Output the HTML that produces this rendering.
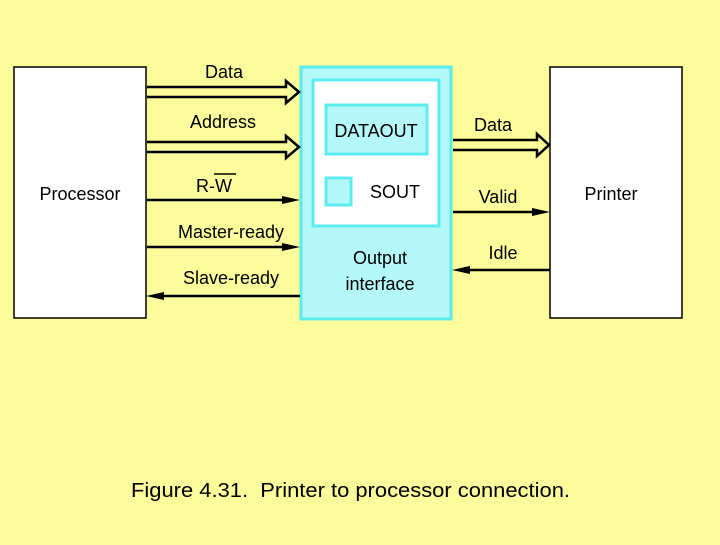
<!DOCTYPE html>
<html><head><style>
body{margin:0;width:720px;height:540px;background:#fcfc9c;font-family:"Liberation Sans",sans-serif;overflow:hidden}
</style></head><body>
<svg width="720" height="540" xmlns="http://www.w3.org/2000/svg" font-family="Liberation Sans, sans-serif" font-size="18">
<rect x="0" y="0" width="720" height="540" fill="#fcfc9c"/>
<rect x="14" y="67" width="132" height="251" fill="#fff" stroke="#000" stroke-width="1.5"/>
<rect x="550" y="67" width="132" height="251" fill="#fff" stroke="#000" stroke-width="1.5"/>
<rect x="301" y="67" width="150" height="252" fill="#b4f8fa" stroke="#5cecf0" stroke-width="3"/>
<rect x="313" y="80" width="126" height="146" fill="#fff" stroke="#5cecf0" stroke-width="3"/>
<rect x="326" y="105" width="101" height="49" fill="#b4f8fa" stroke="#5cecf0" stroke-width="3"/>
<rect x="326" y="178" width="25" height="27" fill="#b4f8fa" stroke="#5cecf0" stroke-width="3"/>
<g fill="none" stroke="#000" stroke-width="2.5">
<path d="M147 87H286V81L299 92L286 103V97H147"/>
<path d="M147 142H286V136L299 147L286 158V152H147"/>
<path d="M453 140H537V134L549 145L537 156V150H453"/>
<path d="M147 200H285M147 247H285M160 296H300M453 212H537M466 270H550"/>
</g>
<g fill="#000">
<path d="M300 200L282 196V204Z"/>
<path d="M300 247L282 243V251Z"/>
<path d="M146 296L164 292V300Z"/>
<path d="M550 212L532 208V216Z"/>
<path d="M452 270L470 266V274Z"/>
</g>
<g fill="#000">
<text x="224" y="78" text-anchor="middle">Data</text>
<text x="223" y="128" text-anchor="middle">Address</text>
<text x="214" y="192" text-anchor="middle">R-W</text>
<line x1="214" y1="174" x2="236" y2="174" stroke="#000" stroke-width="1.5"/>
<text x="231" y="238" text-anchor="middle">Master-ready</text>
<text x="231" y="284" text-anchor="middle">Slave-ready</text>
<text x="80" y="200" text-anchor="middle">Processor</text>
<text x="611" y="200" text-anchor="middle">Printer</text>
<text x="376" y="137" text-anchor="middle">DATAOUT</text>
<text x="395" y="198" text-anchor="middle">SOUT</text>
<text x="380" y="264" text-anchor="middle">Output</text>
<text x="380" y="290" text-anchor="middle">interface</text>
<text x="493" y="131" text-anchor="middle">Data</text>
<text x="498" y="203" text-anchor="middle">Valid</text>
<text x="503" y="259" text-anchor="middle">Idle</text>
<text x="131" y="497" font-size="20" textLength="439" lengthAdjust="spacingAndGlyphs" style="white-space:pre">Figure 4.31.  Printer to processor connection.</text>
</g>
</svg>
</body></html>
